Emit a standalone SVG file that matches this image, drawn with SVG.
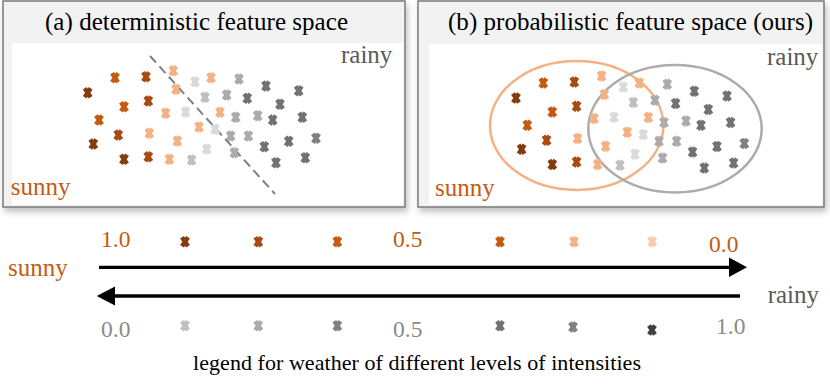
<svg xmlns="http://www.w3.org/2000/svg" width="830" height="384" viewBox="0 0 830 384">
<style>
text{font-family:"Liberation Serif","Times New Roman",serif}
.t25{font-size:25px}
.t23{font-size:23.5px}
.blk{fill:#000}
.or{fill:#c55a11}
.gr{fill:#595959}
.lg{fill:#8a8a8a}
.xm{fill:none;stroke-width:4.5}
.db{stroke:#843c0c}
.do{stroke:#a94b10}
.o{stroke:#c55a11}
.lo{stroke:#f4b183}
.vlo{stroke:#f8cbad}
.vlg{stroke:#dadada}
.lgy{stroke:#c0c0c0}
.g{stroke:#aeaaaa}
.mg{stroke:#808080}
.dg{stroke:#767171}
.dk{stroke:#404040}
.panel{fill:#f2f2f2;stroke:#7a7a7a;stroke-width:1.5}
.inner{fill:#fff}
.arrow{stroke:#000;stroke-width:3.3;fill:none}
</style>
<defs>
<filter id="sh" x="-5%" y="-5%" width="112%" height="120%">
<feDropShadow dx="2" dy="4" stdDeviation="3" flood-color="#000" flood-opacity="0.25"/>
</filter>
<path id="x" class="xm" d="M-3,-4.5 L3,4.5 M3,-4.5 L-3,4.5"/>
<g id="scatter">
<use href="#x" x="87.7" y="92.7" class="db"/>
<use href="#x" x="115" y="77.7" class="o"/>
<use href="#x" x="146" y="76.7" class="do"/>
<use href="#x" x="173.3" y="70.7" class="lo"/>
<use href="#x" x="176" y="89.3" class="lo"/>
<use href="#x" x="195" y="81.7" class="vlg"/>
<use href="#x" x="211" y="77.7" class="lo"/>
<use href="#x" x="239" y="79" class="g"/>
<use href="#x" x="266" y="86" class="dg"/>
<use href="#x" x="298.7" y="90.7" class="dg"/>
<use href="#x" x="124" y="106.7" class="o"/>
<use href="#x" x="148.3" y="101" class="do"/>
<use href="#x" x="205" y="97.3" class="lgy"/>
<use href="#x" x="226.7" y="95" class="g"/>
<use href="#x" x="247.3" y="98.3" class="dg"/>
<use href="#x" x="280" y="104.3" class="dg"/>
<use href="#x" x="99" y="120" class="o"/>
<use href="#x" x="165.7" y="113.3" class="lo"/>
<use href="#x" x="185.7" y="112" class="vlg"/>
<use href="#x" x="220" y="112.3" class="lo"/>
<use href="#x" x="235.7" y="117.3" class="g"/>
<use href="#x" x="257.7" y="115.7" class="g"/>
<use href="#x" x="272.7" y="120" class="dg"/>
<use href="#x" x="302.3" y="117.3" class="dg"/>
<use href="#x" x="118.3" y="135" class="do"/>
<use href="#x" x="149.3" y="133.3" class="lo"/>
<use href="#x" x="199" y="127" class="lo"/>
<use href="#x" x="215" y="129.3" class="vlg"/>
<use href="#x" x="230.7" y="136" class="g"/>
<use href="#x" x="248.3" y="136" class="g"/>
<use href="#x" x="264.3" y="146.7" class="dg"/>
<use href="#x" x="288.7" y="141.3" class="dg"/>
<use href="#x" x="316" y="138.3" class="mg"/>
<use href="#x" x="93.3" y="144" class="db"/>
<use href="#x" x="177.3" y="141" class="lo"/>
<use href="#x" x="206.7" y="149" class="vlg"/>
<use href="#x" x="234.3" y="152.7" class="g"/>
<use href="#x" x="124" y="159.3" class="db"/>
<use href="#x" x="148.3" y="156.7" class="do"/>
<use href="#x" x="169.3" y="159.3" class="lo"/>
<use href="#x" x="191.7" y="160" class="lgy"/>
<use href="#x" x="276" y="162.7" class="dg"/>
<use href="#x" x="305.3" y="157.7" class="dg"/>
</g>
</defs>
<rect width="830" height="384" fill="#fff"/>

<g id="panel-a">
<rect class="panel" x="3" y="1" width="402" height="206" filter="url(#sh)"/>
<rect class="inner" x="12" y="43" width="391" height="162"/>
<text class="t25 blk" x="45" y="30" textLength="303">(a) deterministic feature space</text>
<text class="t25 gr" x="341" y="63">rainy</text>
<text class="t25 or" x="10.7" y="195">sunny</text>
<line x1="150" y1="56" x2="275" y2="194" stroke="#7f7f7f" stroke-width="2" stroke-dasharray="9 5"/>
<use href="#scatter"/>
</g>

<g id="panel-b">
<rect class="panel" x="418" y="1" width="406" height="206" filter="url(#sh)"/>
<rect class="inner" x="429" y="44" width="393" height="161"/>
<text class="t25 blk" x="448" y="30" textLength="365">(b) probabilistic feature space (ours)</text>
<text class="t25 gr" x="767" y="65">rainy</text>
<text class="t25 or" x="435" y="195.5">sunny</text>
<ellipse cx="576.7" cy="125.5" rx="86.7" ry="64.5" fill="none" stroke="#f4b183" stroke-width="2.5"/>
<ellipse cx="675" cy="128.7" rx="86.7" ry="63.7" fill="none" stroke="#afabab" stroke-width="2.5"/>
<use href="#scatter" transform="translate(428.3,5.3)"/>
</g>

<g id="legend">
<text class="t23 or" x="101" y="247">1.0</text>
<text class="t23 or" x="393" y="247">0.5</text>
<text class="t23 or" x="709" y="252">0.0</text>
<use href="#x" x="185" y="241.7" class="db"/>
<use href="#x" x="258.3" y="241.7" class="do"/>
<use href="#x" x="337.3" y="241.7" class="o"/>
<use href="#x" x="500" y="241.7" class="o"/>
<use href="#x" x="574" y="241.7" class="lo"/>
<use href="#x" x="652.3" y="241.7" class="vlo"/>
<text class="t25 or" x="8" y="276">sunny</text>
<text class="t25 gr" x="767.7" y="303">rainy</text>
<text class="t23 lg" x="101" y="337">0.0</text>
<text class="t23 lg" x="393" y="337">0.5</text>
<text class="t23 lg" x="716" y="333.5">1.0</text>
<use href="#x" x="185" y="325.7" class="lgy"/>
<use href="#x" x="258.3" y="325.7" class="g"/>
<use href="#x" x="337.3" y="325.7" class="mg"/>
<use href="#x" x="500" y="325.7" class="dg"/>
<use href="#x" x="573" y="327" class="mg"/>
<use href="#x" x="652" y="330" class="dk"/>
<text class="blk" x="193" y="370" font-size="22" textLength="448">legend for weather of different levels of intensities</text>
</g>

<g id="connectors">
<line class="arrow" x1="99" y1="267.3" x2="731" y2="267.3"/>
<polygon points="729,257.5 747,267.3 729,277" fill="#000"/>
<line class="arrow" x1="113" y1="296" x2="740" y2="296"/>
<polygon points="115,286.5 96.7,296 115,305.5" fill="#000"/>
</g>
</svg>
